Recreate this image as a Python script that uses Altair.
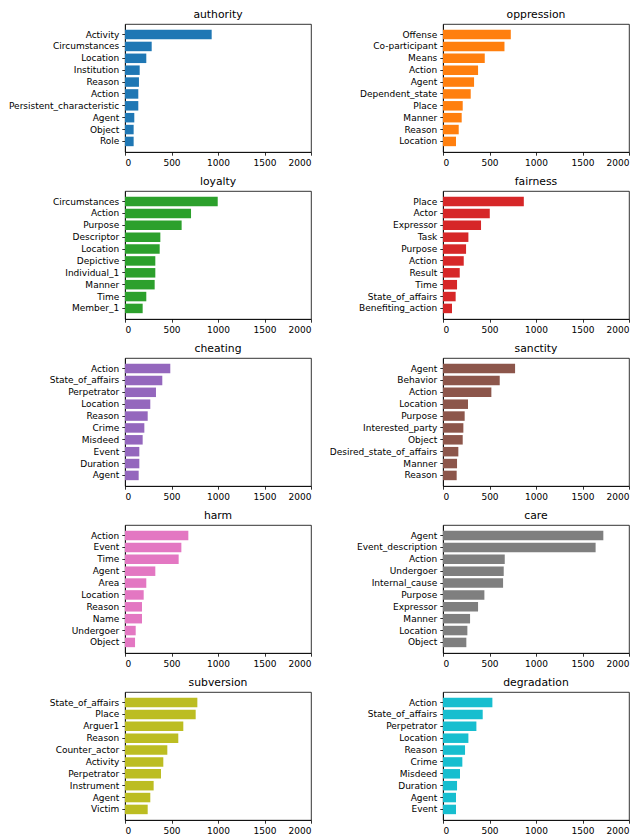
import altair as alt
import pandas as pd

# one list of role labels and one list of counts per moral foundation
authority_roles = ["Activity", "Circumstances", "Location", "Institution", "Reason", "Action",
                   "Persistent_characteristic", "Agent", "Object", "Role"]
authority_counts = [932, 287, 229, 158, 150, 143, 143, 100, 93, 93]

oppression_roles = ["Offense", "Co-participant", "Means", "Action", "Agent", "Dependent_state",
                    "Place", "Manner", "Reason", "Location"]
oppression_counts = [729, 661, 449, 377, 334, 298, 212, 201, 169, 140]

loyalty_roles = ["Circumstances", "Action", "Purpose", "Descriptor", "Location", "Depictive",
                 "Individual_1", "Manner", "Time", "Member_1"]
loyalty_counts = [997, 710, 609, 380, 373, 326, 326, 319, 229, 190]

fairness_roles = ["Place", "Actor", "Expressor", "Task", "Purpose", "Action", "Result", "Time",
                  "State_of_affairs", "Benefiting_action"]
fairness_counts = [869, 503, 409, 273, 248, 223, 180, 151, 136, 97]

cheating_roles = ["Action", "State_of_affairs", "Perpetrator", "Location", "Reason", "Crime",
                  "Misdeed", "Event", "Duration", "Agent"]
cheating_counts = [487, 401, 333, 272, 244, 208, 190, 154, 154, 147]

sanctity_roles = ["Agent", "Behavior", "Action", "Location", "Purpose", "Interested_party",
                  "Object", "Desired_state_of_affairs", "Manner", "Reason"]
sanctity_counts = [775, 610, 520, 269, 233, 219, 212, 165, 151, 147]

harm_roles = ["Action", "Event", "Time", "Agent", "Area", "Location", "Reason", "Name",
              "Undergoer", "Object"]
harm_counts = [681, 606, 577, 326, 229, 201, 183, 183, 115, 108]

care_roles = ["Agent", "Event_description", "Action", "Undergoer", "Internal_cause", "Purpose",
              "Expressor", "Manner", "Location", "Object"]
care_counts = [1724, 1641, 664, 653, 646, 445, 377, 291, 262, 251]

subversion_roles = ["State_of_affairs", "Place", "Arguer1", "Reason", "Counter_actor", "Activity",
                    "Perpetrator", "Instrument", "Agent", "Victim"]
subversion_counts = [778, 760, 627, 573, 455, 412, 387, 308, 272, 244]

degradation_roles = ["Action", "State_of_affairs", "Perpetrator", "Location", "Reason", "Crime",
                     "Misdeed", "Duration", "Agent", "Event"]
degradation_counts = [531, 427, 359, 273, 237, 208, 183, 151, 140, 140]

panels = [
    ("authority", authority_roles, authority_counts, "#1f77b4"),
    ("oppression", oppression_roles, oppression_counts, "#ff7f0e"),
    ("loyalty", loyalty_roles, loyalty_counts, "#2ca02c"),
    ("fairness", fairness_roles, fairness_counts, "#d62728"),
    ("cheating", cheating_roles, cheating_counts, "#9467bd"),
    ("sanctity", sanctity_roles, sanctity_counts, "#8c564b"),
    ("harm", harm_roles, harm_counts, "#e377c2"),
    ("care", care_roles, care_counts, "#7f7f7f"),
    ("subversion", subversion_roles, subversion_counts, "#bcbd22"),
    ("degradation", degradation_roles, degradation_counts, "#17becf"),
]


def make_panel(name, roles, counts, color):
    df = pd.DataFrame({"role": roles, "count": counts})
    return (
        alt.Chart(df)
        .mark_bar(color=color)
        .encode(
            x=alt.X("count:Q", scale=alt.Scale(domain=[0, 2000], nice=False),
                    axis=alt.Axis(values=[0, 500, 1000, 1500, 2000], format="d", title=None)),
            y=alt.Y("role:N", sort=roles,
                    scale=alt.Scale(paddingInner=0.2, paddingOuter=0.49),
                    axis=alt.Axis(title=None)),
        )
        .properties(
            width=186,
            height=128,
            title=alt.TitleParams(name, frame="group", anchor="middle", offset=4),
        )
    )


charts = [make_panel(*p) for p in panels]

chart = (
    alt.concat(*charts, columns=2, spacing={"row": 39, "column": 132}, bounds="flush")
    .properties(padding={"left": 0, "top": 0, "right": 2, "bottom": 0})
    .configure_view(stroke="black", strokeWidth=0.8)
    .configure_axis(
        labelFont="DejaVu Sans", labelFontSize=9, labelColor="black",
        tickColor="black", tickSize=3.2, tickWidth=0.8, labelPadding=3,
        domainColor="black", domainWidth=0.8, grid=False,
    )
    .configure_title(font="DejaVu Sans", fontSize=10.8, fontWeight="normal", color="black")
)

chart.save("out.html", embed_options={"renderer": "svg", "actions": False})
